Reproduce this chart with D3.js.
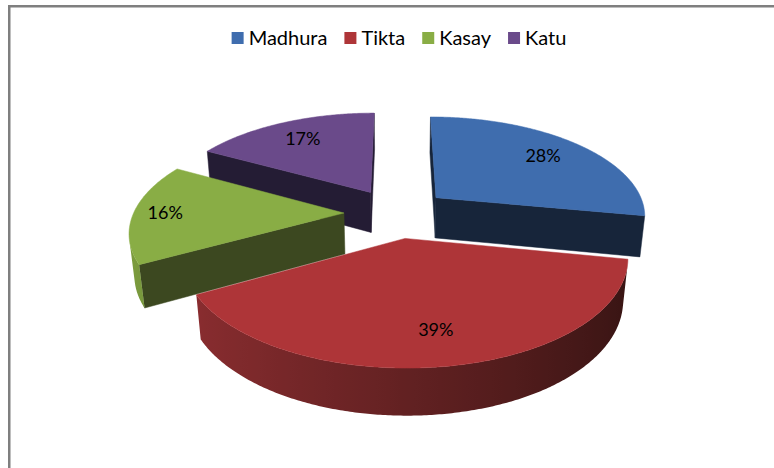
<!DOCTYPE html>
<html>
<head>
<meta charset="utf-8">
<script src="https://cdn.jsdelivr.net/npm/d3@7"></script>
<style>
body { margin: 0; background: #fff; }
svg { display: block; font-family: Lato, 'Open Sans', sans-serif; }
</style>
</head>
<body>
<svg id="chart" width="774" height="468"></svg>
<script>
// data
var categories = ['Madhura', 'Tikta', 'Kasay', 'Katu'];
var values = [28, 39, 16, 17];

// colours per slice: top face, cut faces, rim gradient ends
var topColors = ['#3F6DAE', '#AE3538', '#89AD45', '#6A4A8A'];
var faceColors = ['#17253A', '#4B1B1C', '#3C4820', '#241C34'];
var sideLight = ['#3A64A2', '#8E2E31', '#7E9F3F', '#5E427C'];
var sideDark = ['#16233A', '#371413', '#2F3A19', '#1E172C'];

// fake 3d camera
var tilt = 28 * Math.PI / 180;
var camDist = 5.34, focal = 1123;
var cx = 396.5, cy = 213;
var explode = 0.25, depth = 0.225;
var cam = [0, camDist * Math.sin(tilt), -camDist * Math.cos(tilt)];

function project(x, yUp, z) {
    var y2 = yUp * Math.cos(tilt) + z * Math.sin(tilt);
    var z2 = -yUp * Math.sin(tilt) + z * Math.cos(tilt);
    var s = focal / (camDist + z2);
    return [cx + x * s, cy - y2 * s];
}

function facing(n, p) {
    return n[0] * (cam[0] - p[0]) + n[1] * (cam[1] - p[1]) + n[2] * (cam[2] - p[2]) > 0;
}

function poly(pts) {
    return 'M' + pts.map(p => p[0].toFixed(2) + ',' + p[1].toFixed(2)).join('L') + 'Z';
}

var svg = d3.select('#chart');
var defs = svg.append('defs');

// chart area border
svg.append('rect')
    .attr('x', 9.25)
    .attr('y', 6.25)
    .attr('width', 800)
    .attr('height', 500)
    .attr('fill', 'none')
    .attr('stroke', '#7f7f7f')
    .attr('stroke-width', 2.5);

var pie = d3.pie().sort(null).value(d => d);
var arcs = pie(values);
var total = d3.sum(values);

arcs.forEach(function(a, i) {
    a.index = i;
    a.mid = (a.startAngle + a.endAngle) / 2;
    a.ox = explode * Math.sin(a.mid);
    a.oz = explode * Math.cos(a.mid);
});

// back slices first
var order = arcs.slice().sort((a, b) => b.oz - a.oz);

var g = svg.append('g');

order.forEach(function(a) {
    var i = a.index;
    var shade = d3.scaleLinear()
        .domain([-1, 1])
        .range([sideLight[i], sideDark[i]])
        .interpolate(d3.interpolateRgb);
    var sg = g.append('g').attr('class', 'slice');

    function rim(t, yUp) {
        return [a.ox + Math.sin(t), yUp, a.oz + Math.cos(t)];
    }
    function pr(p) { return project(p[0], p[1], p[2]); }
    var apexT = [a.ox, 0, a.oz], apexB = [a.ox, -depth, a.oz];

    // cut faces
    [[a.startAngle, [-Math.cos(a.startAngle), 0, Math.sin(a.startAngle)]],
     [a.endAngle, [Math.cos(a.endAngle), 0, -Math.sin(a.endAngle)]]].forEach(function(f) {
        var pts = [apexT, rim(f[0], 0), rim(f[0], -depth), apexB];
        if (facing(f[1], pts[1])) {
            sg.append('path')
                .attr('d', poly(pts.map(pr)))
                .attr('fill', faceColors[i])
                .attr('stroke', faceColors[i])
                .attr('stroke-width', 0.5);
        }
    });

    // outer rim, only the part turned to the camera
    var steps = Math.ceil((a.endAngle - a.startAngle) / 0.01);
    var ts = d3.range(steps + 1).map(k => a.startAngle + (a.endAngle - a.startAngle) * k / steps);
    var vis = ts.filter(t => facing([Math.sin(t), 0, Math.cos(t)], rim(t, 0)));
    if (vis.length > 1) {
        var topR = vis.map(t => pr(rim(t, 0)));
        var botR = vis.map(t => pr(rim(t, -depth))).reverse();
        var xs = d3.extent(topR.concat(botR), p => p[0]);
        var gid = 'rim' + i;
        var grad = defs.append('linearGradient')
            .attr('id', gid)
            .attr('gradientUnits', 'userSpaceOnUse')
            .attr('x1', xs[0]).attr('y1', 0)
            .attr('x2', xs[1]).attr('y2', 0);
        var sorted = vis.map(t => ({ x: pr(rim(t, 0))[0], c: shade(Math.sin(t)) }))
            .sort((p, q) => p.x - q.x);
        var span = Math.max(xs[1] - xs[0], 1);
        sorted.filter((p, k) => k % 5 == 0 || k == sorted.length - 1).forEach(function(p) {
            grad.append('stop')
                .attr('offset', Math.max(0, Math.min(1, (p.x - xs[0]) / span)))
                .attr('stop-color', p.c);
        });
        sg.append('path')
            .attr('d', poly(topR.concat(botR)))
            .attr('fill', 'url(#' + gid + ')');
    }

    // top
    var topPts = [apexT].concat(ts.map(t => rim(t, 0)));
    sg.append('path')
        .attr('d', poly(topPts.map(pr)))
        .attr('fill', topColors[i])
        .attr('stroke', topColors[i])
        .attr('stroke-width', 0.5);
});

// data labels
var labelR = [0.75, 0.75, 0.85, 0.75];
arcs.forEach(function(a, i) {
    var r = labelR[i];
    var p = project(a.ox + r * Math.sin(a.mid), 0, a.oz + r * Math.cos(a.mid));
    svg.append('text')
        .attr('x', p[0])
        .attr('y', p[1])
        .attr('dy', '0.35em')
        .attr('text-anchor', 'middle')
        .attr('font-size', '18px')
        .attr('fill', '#000')
        .text(Math.round(a.value / total * 100) + '%');
});

// legend
var legend = svg.append('g').attr('class', 'legend');
var xPos = 0;
categories.forEach(function(c, i) {
    var item = legend.append('g').attr('transform', 'translate(' + xPos + ',0)');
    item.append('rect')
        .attr('x', 0)
        .attr('y', -6)
        .attr('width', 12)
        .attr('height', 12)
        .attr('fill', topColors[i]);
    var t = item.append('text')
        .attr('x', 17)
        .attr('y', 0)
        .attr('dy', '0.35em')
        .attr('font-size', '20px')
        .attr('fill', '#000')
        .text(c);
    xPos += 17 + t.node().getComputedTextLength() + 17;
});
var legendW = xPos - 17;
legend.attr('transform', 'translate(' + (399 - legendW / 2) + ',38)');
</script>
</body>
</html>
